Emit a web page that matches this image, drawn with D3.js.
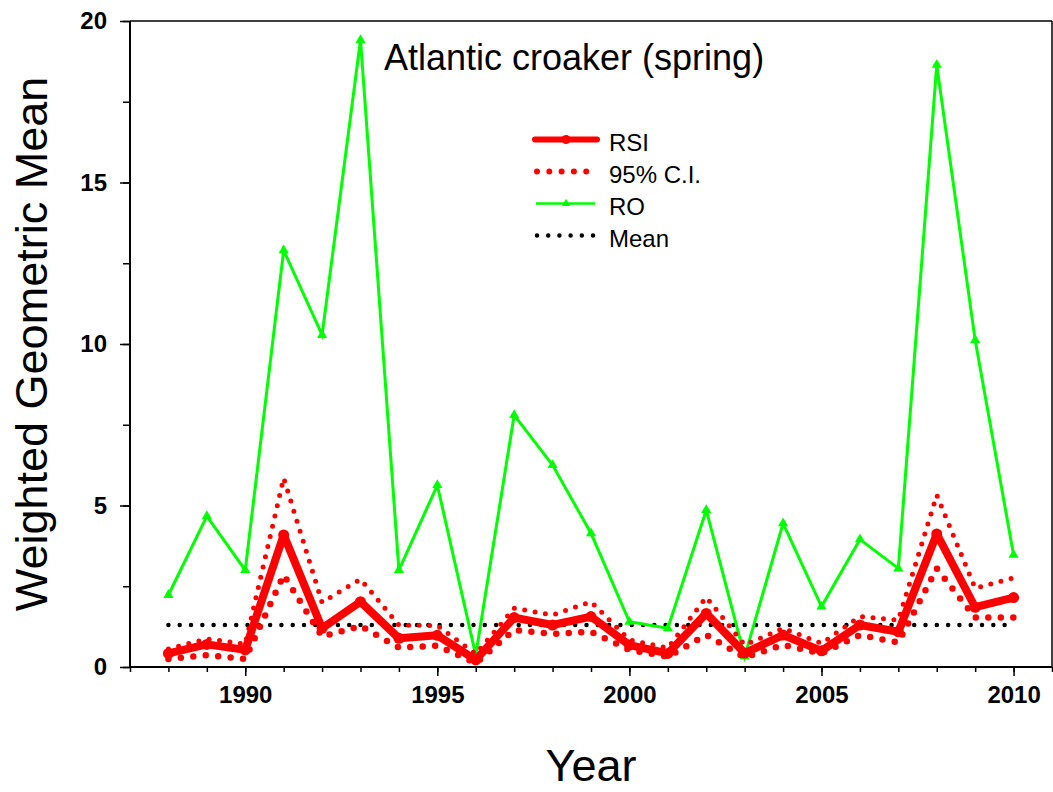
<!DOCTYPE html>
<html>
<head>
<meta charset="utf-8">
<script src="https://cdn.jsdelivr.net/npm/d3@7"></script>
<style>
  html, body { margin: 0; padding: 0; background: #fff; }
  svg { display: block; font-family: "Liberation Sans", Arial, sans-serif; }
</style>
</head>
<body>
<svg id="chart" width="1053" height="792"></svg>
<script>
const years = d3.range(1988, 2011);
const rsi     = [0.42, 0.70, 0.53, 4.09, 1.20, 2.02, 0.89, 0.98, 0.22, 1.53, 1.30, 1.56, 0.68, 0.42, 1.66, 0.43, 0.99, 0.50, 1.30, 1.09, 4.12, 1.85, 2.15];
const ciUpper = [0.56, 0.87, 0.71, 5.85, 2.00, 2.72, 1.30, 1.28, 0.40, 1.82, 1.61, 2.02, 0.84, 0.59, 2.16, 0.68, 1.20, 0.73, 1.56, 1.45, 5.32, 2.44, 2.76];
const ciLower = [0.25, 0.37, 0.25, 2.85, 0.94, 1.27, 0.60, 0.66, 0.12, 1.15, 1.02, 1.09, 0.53, 0.32, 0.99, 0.30, 0.68, 0.42, 0.99, 0.76, 3.05, 1.53, 1.53];
const ro      = [2.23, 4.67, 3.00, 12.90, 10.28, 19.41, 3.00, 5.63, 0.37, 7.80, 6.25, 4.14, 1.40, 1.20, 4.86, 0.32, 4.45, 1.87, 3.95, 3.05, 18.64, 10.12, 3.47];
const meanValue = 1.30;
const yMajorTicks = [0, 5, 10, 15, 20];
const xMajorTicks = [1990, 1995, 2000, 2005, 2010];
const title = "Atlantic croaker (spring)";
const xTitle = "Year";
const yTitle = "Weighted Geometric Mean";
const legendLabels = ["RSI", "95% C.I.", "RO", "Mean"];

const svg = d3.select("#chart");
const x = d3.scaleLinear().domain([1987, 2011]).range([130, 1052]);
const y = d3.scaleLinear().domain([0, 20]).range([667, 21]);

// frame top/right
svg.append("line").attr("x1", x(1987)).attr("x2", x(2011)).attr("y1", y(20)).attr("y2", y(20))
  .attr("stroke", "#000").attr("stroke-width", 1.5);
svg.append("line").attr("x1", x(2011)).attr("x2", x(2011)).attr("y1", y(20)).attr("y2", y(0))
  .attr("stroke", "#000").attr("stroke-width", 1.5);

// x axis
const xAxisMinor = d3.axisBottom(x).tickValues(d3.range(1987, 2012)).tickSize(5).tickFormat("");
const xAxisMajor = d3.axisBottom(x).tickValues(xMajorTicks).tickSize(9).tickPadding(10).tickFormat(d3.format("d"));
const gxm = svg.append("g").attr("transform", `translate(0,${y(0)})`).call(xAxisMinor);
const gx = svg.append("g").attr("transform", `translate(0,${y(0)})`).call(xAxisMajor);
[gxm, gx].forEach(g => {
  g.selectAll("path.domain").attr("stroke-width", 2).attr("d", `M${x(1987)},0H${x(2011)}`);
  g.selectAll("line").attr("stroke-width", 1.5);
});
gx.selectAll("text").attr("font-size", 24).attr("font-weight", "bold").attr("fill", "#000")
  .attr("font-family", "'Liberation Sans', Arial, sans-serif");

// y axis
const yAxisMinor = d3.axisLeft(y).tickValues(d3.range(0, 20.01, 2.5)).tickSize(7).tickFormat("");
const yAxisMajor = d3.axisLeft(y).tickValues(yMajorTicks).tickSize(10).tickPadding(13).tickFormat(d3.format("d"));
const gym = svg.append("g").attr("transform", `translate(${x(1987)},0)`).call(yAxisMinor);
const gy = svg.append("g").attr("transform", `translate(${x(1987)},0)`).call(yAxisMajor);
[gym, gy].forEach(g => {
  g.selectAll("path.domain").attr("stroke-width", 2).attr("d", `M0,${y(0)}V${y(20)}`);
  g.selectAll("line").attr("stroke-width", 1.5);
});
gy.selectAll("text").attr("font-size", 24).attr("font-weight", "bold").attr("fill", "#000")
  .attr("font-family", "'Liberation Sans', Arial, sans-serif");

// axis titles
svg.append("text").attr("x", (x(1987) + x(2011)) / 2).attr("y", 781).attr("text-anchor", "middle")
  .attr("font-size", 45).text(xTitle);
svg.append("text").attr("transform", `translate(47,${(y(0) + y(20)) / 2}) rotate(-90)`)
  .attr("text-anchor", "middle").attr("font-size", 45).text(yTitle);

// title
svg.append("text").attr("x", 384).attr("y", 70).attr("font-size", 36).text(title);

const line = d3.line().x((d, i) => x(years[i])).y(d => y(d));

// mean line
svg.append("path").attr("d", d3.line()([[x(1988), y(meanValue)], [x(2010), y(meanValue)]]))
  .attr("fill", "none").attr("stroke", "#000").attr("stroke-width", 4.5)
  .attr("stroke-linecap", "round").attr("stroke-dasharray", "0,11.3");

// RO
svg.append("path").attr("d", line(ro)).attr("fill", "none").attr("stroke", "#00ff00").attr("stroke-width", 3)
  .attr("stroke-linejoin", "miter");
const tri = d3.symbol().type(d3.symbolTriangle).size(45);
svg.append("g").selectAll("path").data(ro).join("path")
  .attr("d", tri).attr("transform", (d, i) => `translate(${x(years[i])},${y(d)})`).attr("fill", "#00ff00");

// CI
svg.append("path").attr("d", line(ciUpper)).attr("fill", "none").attr("stroke", "#ff0000").attr("stroke-width", 5)
  .attr("stroke-linecap", "round").attr("stroke-dasharray", "0,10.5");
svg.append("path").attr("d", line(ciLower)).attr("fill", "none").attr("stroke", "#ff0000").attr("stroke-width", 6.5)
  .attr("stroke-linecap", "round").attr("stroke-dasharray", "0,12.5");

// RSI
svg.append("path").attr("d", line(rsi)).attr("fill", "none").attr("stroke", "#ff0000").attr("stroke-width", 8)
  .attr("stroke-linejoin", "round");
svg.append("g").selectAll("circle").data(rsi).join("circle")
  .attr("cx", (d, i) => x(years[i])).attr("cy", d => y(d)).attr("r", 5.5).attr("fill", "#ff0000");

// legend
const lg = svg.append("g");
const rowY = [139.5, 171.5, 203.5, 235.5];
const lx0 = 535, lx1 = 597;
lg.append("line").attr("x1", lx0).attr("x2", lx1).attr("y1", rowY[0]).attr("y2", rowY[0])
  .attr("stroke", "#ff0000").attr("stroke-width", 6).attr("stroke-linecap", "round");
lg.append("circle").attr("cx", (lx0 + lx1) / 2).attr("cy", rowY[0]).attr("r", 4.5).attr("fill", "#ff0000");
lg.append("line").attr("x1", lx0 + 2).attr("x2", lx1).attr("y1", rowY[1]).attr("y2", rowY[1])
  .attr("stroke", "#ff0000").attr("stroke-width", 6).attr("stroke-linecap", "round").attr("stroke-dasharray", "0,12.3");
lg.append("line").attr("x1", lx0 + 1).attr("x2", lx1 - 2).attr("y1", rowY[2]).attr("y2", rowY[2])
  .attr("stroke", "#00ff00").attr("stroke-width", 2.5);
lg.append("path").attr("d", d3.symbol().type(d3.symbolTriangle).size(30))
  .attr("transform", `translate(${(lx0 + lx1) / 2},${rowY[2]})`).attr("fill", "#00ff00");
lg.append("line").attr("x1", lx0 + 2).attr("x2", lx1).attr("y1", rowY[3]).attr("y2", rowY[3])
  .attr("stroke", "#000").attr("stroke-width", 4.5).attr("stroke-linecap", "round").attr("stroke-dasharray", "0,11.2");
lg.selectAll("text").data(legendLabels).join("text")
  .attr("x", 609).attr("y", (d, i) => rowY[i] + 11.5).attr("font-size", 24).text(d => d);
</script>
</body>
</html>
